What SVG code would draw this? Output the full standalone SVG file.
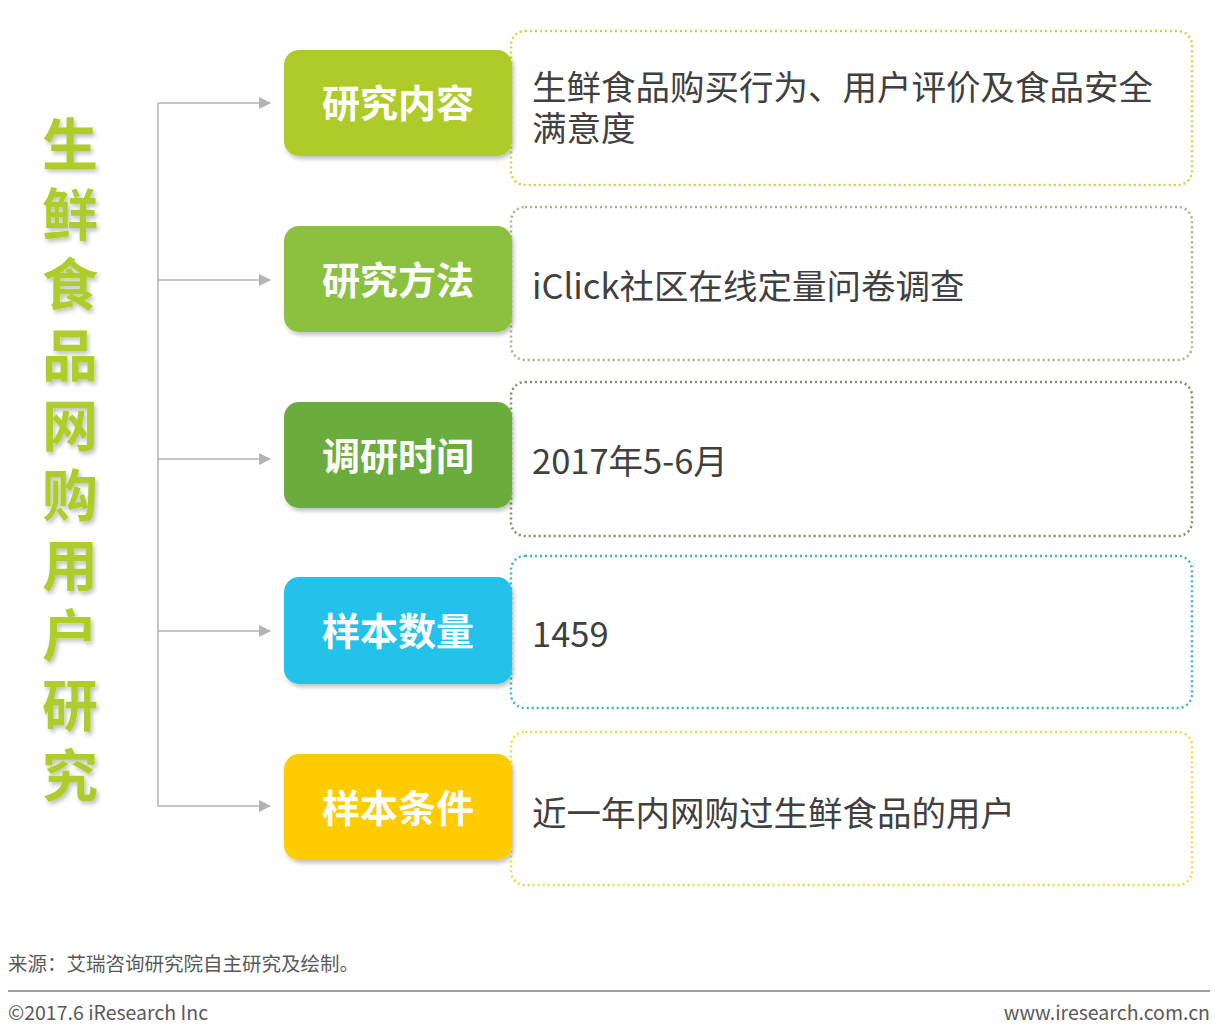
<svg xmlns="http://www.w3.org/2000/svg" width="1215" height="1031" viewBox="0 0 1215 1031">
<defs>
<marker id="arr" markerWidth="12" markerHeight="12" refX="11" refY="6" orient="auto" markerUnits="userSpaceOnUse">
<path d="M0,0 L12,6 L0,12 Z" fill="#b3b3b3"/>
</marker>
<filter id="sh" x="-20%" y="-20%" width="140%" height="140%">
<feGaussianBlur in="SourceAlpha" stdDeviation="2"/>
<feOffset dx="2" dy="3" result="b"/>
<feComponentTransfer><feFuncA type="linear" slope="0.25"/></feComponentTransfer>
<feMerge><feMergeNode/><feMergeNode in="SourceGraphic"/></feMerge>
</filter>
</defs>
<style>
.title{font-family:"Noto Sans CJK SC","Noto Sans",sans-serif;font-weight:bold;font-size:56px;fill:#aecd2b;text-anchor:middle}
.lbl{font-family:"Noto Sans CJK SC","Noto Sans",sans-serif;font-weight:bold;font-size:38px;fill:#ffffff;text-anchor:middle}
.txt{font-family:"Noto Sans CJK SC","Noto Sans",sans-serif;font-size:34.5px;fill:#404040}
.box{fill:#ffffff;stroke-width:2.5;stroke-dasharray:2 3}
.foot{font-family:"Noto Sans CJK SC","Noto Sans",sans-serif;font-size:19.5px;fill:#595959}
.conn{fill:none;stroke:#b3b3b3;stroke-width:1.5}
</style>
<rect width="1215" height="1031" fill="#ffffff"/>
<g id="title" filter="url(#sh)">
<text class="title" x="70" y="165">生</text>
<text class="title" x="70" y="235">鲜</text>
<text class="title" x="70" y="305">食</text>
<text class="title" x="70" y="376">品</text>
<text class="title" x="70" y="446">网</text>
<text class="title" x="70" y="516">购</text>
<text class="title" x="70" y="586">用</text>
<text class="title" x="70" y="656">户</text>
<text class="title" x="70" y="726">研</text>
<text class="title" x="70" y="796">究</text>
</g>
<g id="connectors">
<path class="conn" d="M158,103 V806 H270" marker-end="url(#arr)"/>
<path class="conn" d="M158,103 H270" marker-end="url(#arr)"/>
<path class="conn" d="M158,280 H270" marker-end="url(#arr)"/>
<path class="conn" d="M158,459 H270" marker-end="url(#arr)"/>
<path class="conn" d="M158,631 H270" marker-end="url(#arr)"/>
</g>
<g id="row1">
<rect class="box" x="511" y="31" width="681" height="154" rx="14" stroke="#c2d94a"/>
<rect x="284" y="50" width="228" height="106" rx="15" fill="#aecb2a" filter="url(#sh)"/>
<text class="lbl" x="398" y="117">研究内容</text>
<text class="txt" x="532" y="100">生鲜食品购买行为、用户评价及食品安全</text>
<text class="txt" x="532" y="141">满意度</text>
</g>
<g id="row2">
<rect class="box" x="511" y="207" width="681" height="153" rx="14" stroke="#a6b88a"/>
<rect x="284" y="226" width="228" height="106" rx="15" fill="#8cc13f" filter="url(#sh)"/>
<text class="lbl" x="398" y="294">研究方法</text>
<text class="txt" x="532" y="299">iClick社区在线定量问卷调查</text>
</g>
<g id="row3">
<rect class="box" x="511" y="382" width="681" height="154" rx="14" stroke="#7f8f73"/>
<rect x="284" y="402" width="228" height="106" rx="15" fill="#6aad3e" filter="url(#sh)"/>
<text class="lbl" x="398" y="470">调研时间</text>
<text class="txt" x="532" y="474">2017年5-6月</text>
</g>
<g id="row4">
<rect class="box" x="511" y="556" width="681" height="152" rx="14" stroke="#3fb8b0"/>
<rect x="284" y="577" width="228" height="107" rx="15" fill="#22c2ea" filter="url(#sh)"/>
<text class="lbl" x="398" y="645">样本数量</text>
<text class="txt" x="532" y="647">1459</text>
</g>
<g id="row5">
<rect class="box" x="511" y="732" width="681" height="153" rx="14" stroke="#e8e04a"/>
<rect x="284" y="754" width="228" height="106" rx="15" fill="#ffcc00" filter="url(#sh)"/>
<text class="lbl" x="398" y="822">样本条件</text>
<text class="txt" x="532" y="826">近一年内网购过生鲜食品的用户</text>
</g>
<g id="footer">
<text class="foot" x="8" y="971">来源：艾瑞咨询研究院自主研究及绘制。</text>
<line x1="8" y1="991" x2="1210" y2="991" stroke="#808080" stroke-width="1.5"/>
<text class="foot" x="8" y="1020" font-size="22">©2017.6 iResearch Inc</text>
<text class="foot" x="1210" y="1020" font-size="22" text-anchor="end">www.iresearch.com.cn</text>
</g>
</svg>
